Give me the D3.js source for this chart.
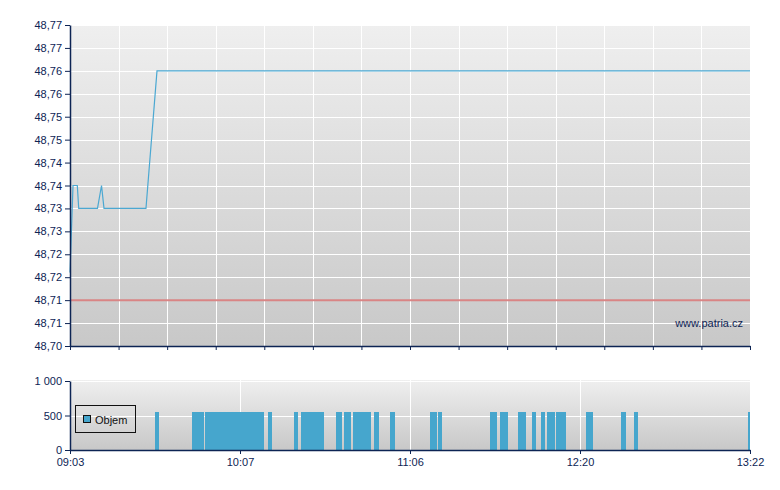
<!DOCTYPE html>
<html>
<head>
<meta charset="utf-8">
<script src="https://cdn.jsdelivr.net/npm/d3@7"></script>
<style>
  html, body { margin: 0; padding: 0; background: #ffffff; }
  svg { display: block; }
  text { font-family: "Liberation Sans", Arial, sans-serif; }
</style>
</head>
<body>
<svg id="chart" width="780" height="490"></svg>
<script>
// ---------- DATA ----------
const xTickLabels = ["09:03", "10:07", "11:06", "12:20", "13:22"];

const yTickValues = [48.700, 48.705, 48.710, 48.715, 48.720, 48.725, 48.730, 48.735,
                     48.740, 48.745, 48.750, 48.755, 48.760, 48.765, 48.770];
const yTickLabels = ["48,70", "48,71", "48,71", "48,72", "48,72", "48,73", "48,73", "48,74",
                     "48,74", "48,75", "48,75", "48,76", "48,76", "48,77", "48,77"];

const priceTimes  = ["09:03:00", "09:04:08", "09:05:45", "09:06:17", "09:13:21",
                     "09:14:52", "09:15:48", "09:31:36", "09:35:45", "13:22:00"];
const priceValues = [48.716, 48.735, 48.735, 48.730, 48.730,
                     48.735, 48.730, 48.730, 48.760, 48.760];

const referencePrice = 48.71;

const volStart = ["09:35:00", "09:48:56", "09:53:49", "10:16:43", "10:25:45", "10:28:10",
                  "10:40:19", "10:43:06", "10:46:13", "10:53:30", "10:59:04", "11:14:42",
                  "11:18:11", "11:40:49", "11:45:11", "11:53:01", "11:59:06", "12:03:01",
                  "12:05:38", "12:09:33", "12:22:11", "12:34:57", "12:39:42", "13:21:16"];
const volEnd   = ["09:36:30", "09:53:27", "10:15:20", "10:18:06", "10:27:08", "10:36:09",
                  "10:42:24", "10:45:31", "10:52:28", "10:55:14", "11:00:48", "11:17:45",
                  "11:19:56", "11:43:52", "11:48:40", "11:56:30", "12:00:51", "12:04:46",
                  "12:09:07", "12:13:54", "12:24:44", "12:36:47", "12:41:09", "13:22:00"];
const volValues = [550, 550, 550, 550, 550, 550, 550, 550, 550, 550, 550, 550,
                   550, 550, 550, 550, 550, 550, 550, 550, 550, 550, 550, 550];

const volTickValues = [0, 500, 1000];
const volTickLabels = ["0", "500", "1 000"];

const legendLabel = "Objem";
const watermark = "www.patria.cz";

// ---------- LAYOUT ----------
const navy = "#0d2454";
const left = 70, right = 750;
const mainTop = 25, mainBottom = 346;
const volTop = 381, volBottom = 450;
const nGrid = 14;

const parseHM = d3.timeParse("%H:%M");
const parseHMS = d3.timeParse("%H:%M:%S");

const svg = d3.select("#chart");

const defs = svg.append("defs");
function grad(id, c1, c2) {
  const g = defs.append("linearGradient").attr("id", id)
    .attr("x1", 0).attr("y1", 0).attr("x2", 0).attr("y2", 1);
  g.append("stop").attr("offset", "0%").attr("stop-color", c1);
  g.append("stop").attr("offset", "100%").attr("stop-color", c2);
}
grad("bgMain", "#efefef", "#c8c8c8");
grad("bgVol", "#efefef", "#c8c8c8");

// scales
const x = d3.scaleTime()
  .domain(xTickLabels.map(parseHM))
  .range(d3.range(xTickLabels.length).map(i => left + i * (right - left) / (xTickLabels.length - 1)));

const y = d3.scaleLinear().domain([48.70, 48.77]).range([mainBottom, mainTop]);
const yv = d3.scaleLinear().domain([0, 1000]).range([volBottom, volTop]);
const xGrid = d3.scaleLinear().domain([0, nGrid]).range([left, right]);

// ---------- MAIN CHART ----------
svg.append("rect").attr("x", left).attr("y", mainTop)
  .attr("width", right - left).attr("height", mainBottom - mainTop)
  .attr("fill", "url(#bgMain)");

const gridMain = svg.append("g").attr("stroke", "#ffffff").attr("stroke-width", 1.5)
  .attr("shape-rendering", "crispEdges");
gridMain.selectAll("line.h").data(yTickValues.slice(1)).join("line")
  .attr("x1", left).attr("x2", right)
  .attr("y1", d => Math.round(y(d)) + 0.5).attr("y2", d => Math.round(y(d)) + 0.5);
gridMain.selectAll("line.v").data(d3.range(1, nGrid + 1)).join("line")
  .attr("x1", d => Math.round(xGrid(d)) + 0.5).attr("x2", d => Math.round(xGrid(d)) + 0.5)
  .attr("y1", mainTop).attr("y2", mainBottom);

// reference line
svg.append("line")
  .attr("x1", left).attr("x2", right)
  .attr("y1", y(referencePrice)).attr("y2", y(referencePrice))
  .attr("stroke", "#d98585").attr("stroke-width", 2);

// price line
const line = d3.line().x(d => x(d.t)).y(d => y(d.v));
const priceData = priceTimes.map((t, i) => ({ t: parseHMS(t), v: priceValues[i] }));
svg.append("path").datum(priceData)
  .attr("d", line)
  .attr("fill", "none")
  .attr("stroke", "#4ba8d2")
  .attr("stroke-width", 1.2);

// watermark
svg.append("text").attr("x", 743).attr("y", 327)
  .attr("text-anchor", "end").attr("font-size", 11).attr("fill", navy)
  .text(watermark);

// axes main
const yAxis = svg.append("g").attr("transform", `translate(${left},0)`)
  .call(d3.axisLeft(y).tickValues(yTickValues)
    .tickFormat((d, i) => yTickLabels[i]).tickSize(5).tickSizeOuter(0).tickPadding(3));
const xAxisMain = svg.append("g").attr("transform", `translate(0,${mainBottom})`)
  .call(d3.axisBottom(xGrid).tickValues(d3.range(nGrid + 1))
    .tickFormat("").tickSize(4).tickSizeOuter(0));

// ---------- VOLUME CHART ----------
svg.append("rect").attr("x", left).attr("y", volTop - 1)
  .attr("width", right - left).attr("height", volBottom - volTop + 1)
  .attr("fill", "url(#bgVol)");

const gridVol = svg.append("g").attr("stroke", "#ffffff").attr("stroke-width", 1.5)
  .attr("shape-rendering", "crispEdges");
gridVol.selectAll("line.h").data(volTickValues.slice(1)).join("line")
  .attr("x1", left).attr("x2", right)
  .attr("y1", d => Math.round(yv(d)) + 0.5).attr("y2", d => Math.round(yv(d)) + 0.5);
gridVol.selectAll("line.v").data(xTickLabels.slice(1, -1).map(parseHM)).join("line")
  .attr("x1", d => Math.round(x(d)) + 0.5).attr("x2", d => Math.round(x(d)) + 0.5)
  .attr("y1", volTop - 1).attr("y2", volBottom);

const volData = volStart.map((s, i) => ({ s: parseHMS(s), e: parseHMS(volEnd[i]), v: volValues[i] }));
svg.append("g").selectAll("rect").data(volData).join("rect")
  .attr("x", d => x(d.s))
  .attr("width", d => Math.max(1, x(d.e) - x(d.s)))
  .attr("y", d => yv(d.v))
  .attr("height", d => volBottom - yv(d.v))
  .attr("fill", "#46a6cd")
  .attr("shape-rendering", "crispEdges");

const yvAxis = svg.append("g").attr("transform", `translate(${left},0)`)
  .call(d3.axisLeft(yv).tickValues(volTickValues)
    .tickFormat((d, i) => volTickLabels[i]).tickSize(5).tickSizeOuter(0).tickPadding(3));
const xAxisVol = svg.append("g").attr("transform", `translate(0,${volBottom})`)
  .call(d3.axisBottom(x).tickValues(xTickLabels.map(parseHM))
    .tickFormat((d, i) => xTickLabels[i]).tickSize(4).tickSizeOuter(0).tickPadding(4));

// axis styling
[yAxis, xAxisMain, yvAxis, xAxisVol].forEach(g => {
  g.select(".domain").attr("stroke", navy).attr("stroke-width", 1.5);
  g.selectAll(".tick line").attr("stroke", navy);
  g.selectAll(".tick text").attr("fill", navy)
    .attr("font-family", "'Liberation Sans', Arial, sans-serif").attr("font-size", 11);
});

// legend
const lg = svg.append("g");
lg.append("rect").attr("x", 75.5).attr("y", 405.5).attr("width", 60).attr("height", 27)
  .attr("fill", "none").attr("stroke", "#111111").attr("stroke-width", 1);
lg.append("rect").attr("x", 83.5).attr("y", 415.5).attr("width", 7).attr("height", 7)
  .attr("fill", "#46a6cd").attr("stroke", "#111111").attr("stroke-width", 1);
lg.append("text").attr("x", 95).attr("y", 424).attr("font-size", 11).attr("fill", "#111111")
  .text(legendLabel);
</script>
</body>
</html>
